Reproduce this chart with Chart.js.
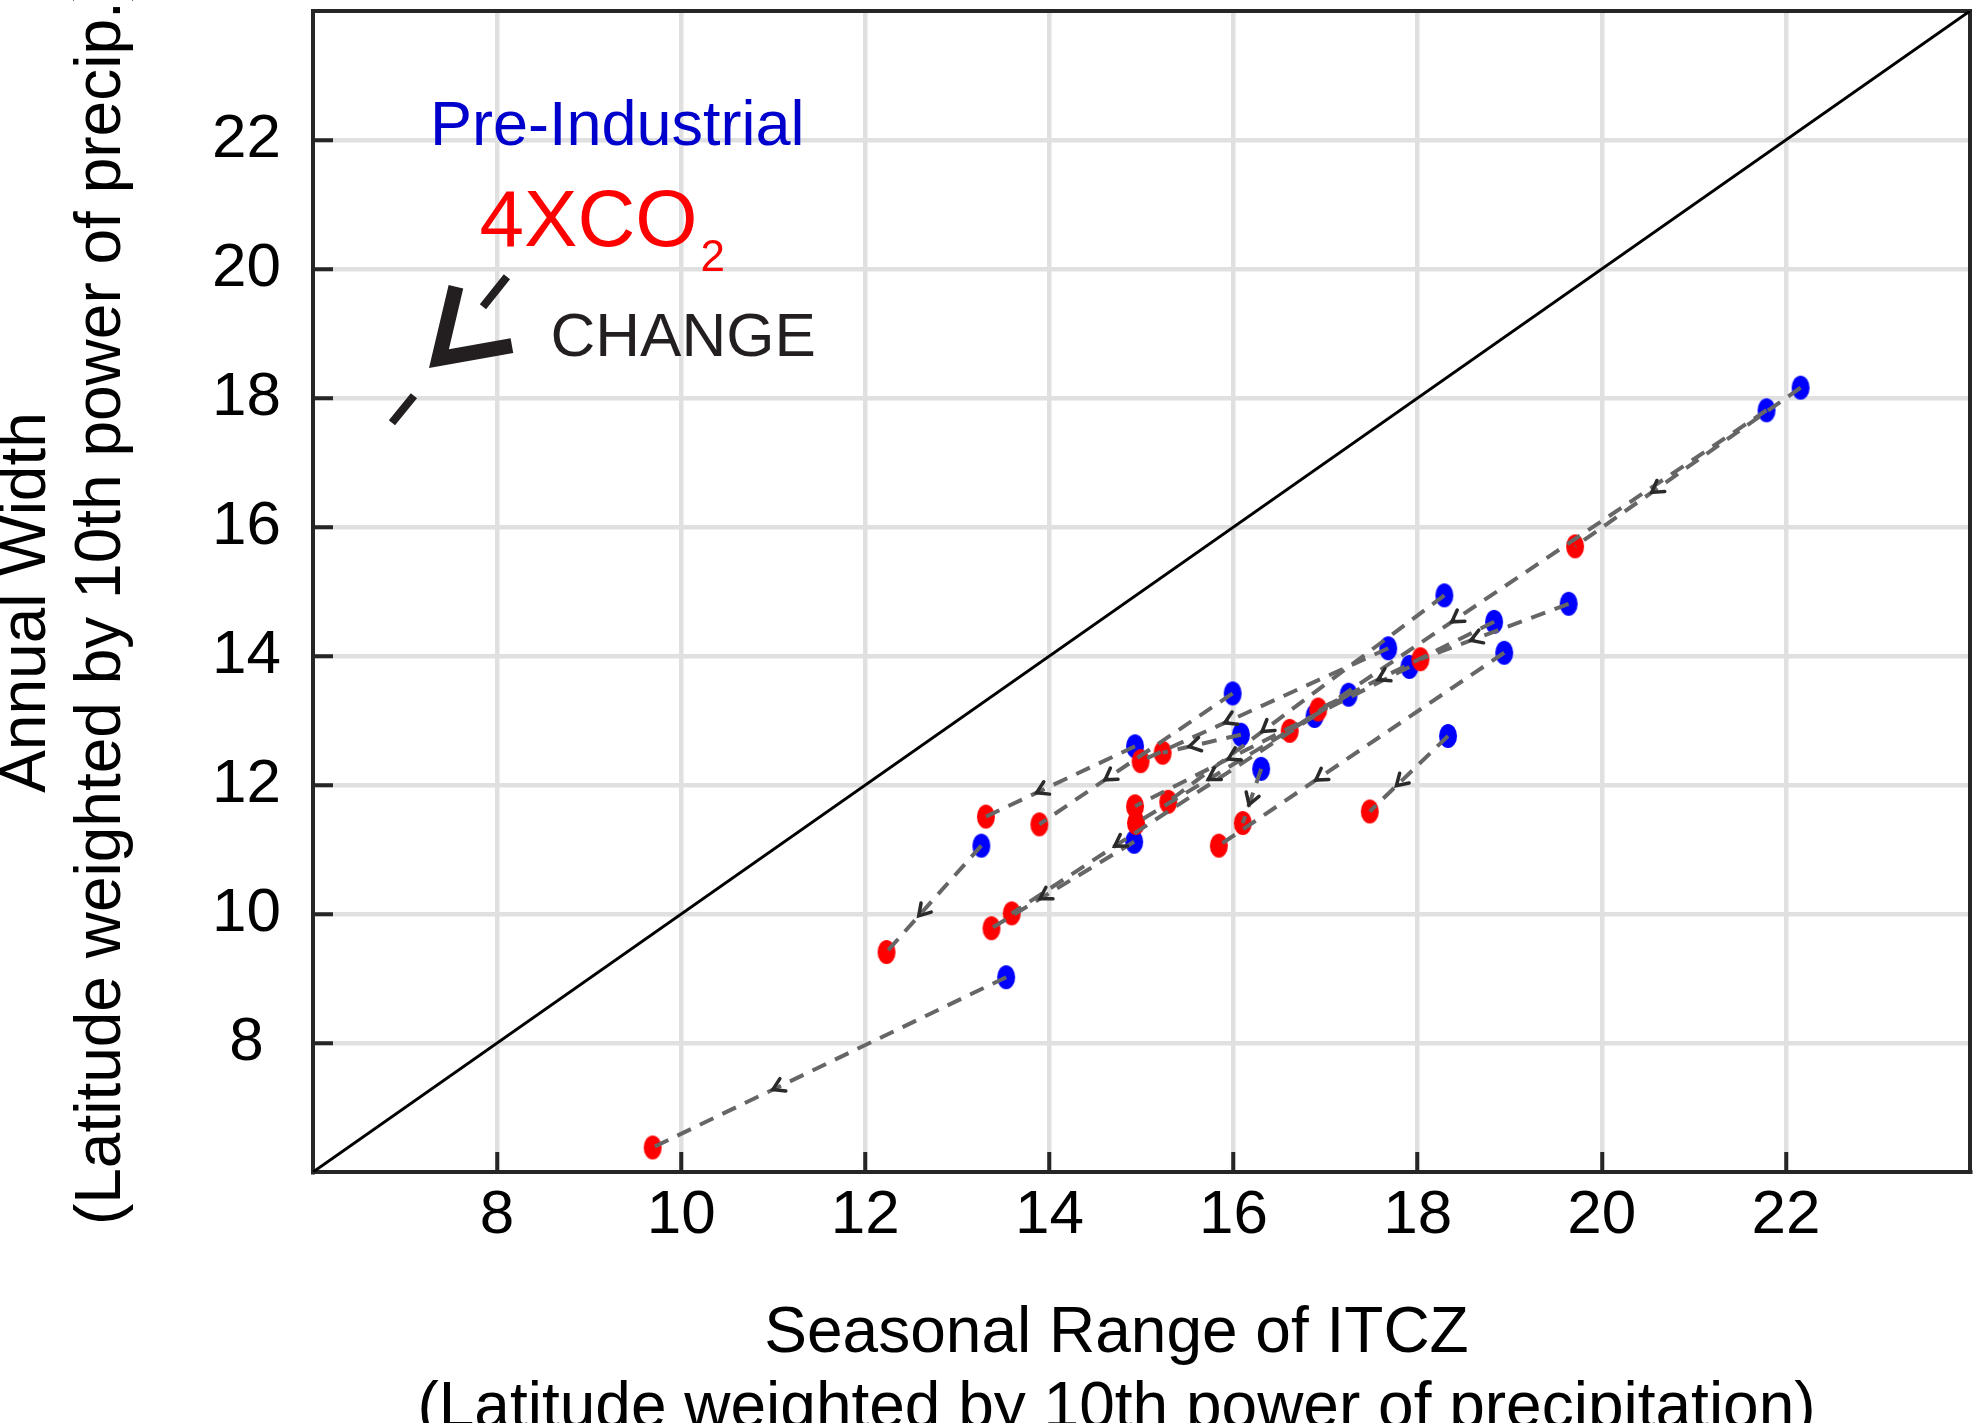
<!DOCTYPE html>
<html lang="en">
<head>
  <meta charset="UTF-8" />
  <title>Seasonal Range of ITCZ vs Annual Width</title>
  <script src="https://cdn.jsdelivr.net/npm/chart.js"></script>
  <style>
    html, body {
      margin: 0;
      padding: 0;
      background: #ffffff;
    }
    #wrap {
      width: 1981px;
      height: 1423px;
      position: relative;
    }
  </style>
</head>
<body>
  <div id="wrap"><canvas id="itczChart"></canvas></div>

  <script>
    // Pre-industrial runs (blue) and the matching 4XCO2 runs (red), same model order
    const piX  = [22.16, 21.79, 18.29, 19.64, 18.83, 17.68, 18.94, 17.91, 15.99, 17.25, 16.88, 16.08, 18.33, 14.93, 16.30, 13.26, 14.92, 13.53];
    const piY  = [18.16, 17.81, 14.94, 14.81, 14.53, 14.12, 14.05, 13.83, 13.42, 13.40, 13.07, 12.78, 12.76, 12.60, 12.25, 11.06, 11.12, 9.02];
    const co2X = [19.71, 16.61, 15.29, 18.03, 16.92, 14.99, 15.84, 14.93, 13.89, 14.94, 13.59, 15.23, 17.48, 13.31, 16.10, 12.23, 13.37, 9.69];
    const co2Y = [15.70, 12.84, 11.74, 13.95, 13.17, 12.37, 11.06, 11.67, 11.39, 11.41, 10.01, 12.50, 11.59, 11.51, 11.41, 9.41, 9.78, 6.38];

    const xTicks = [8, 10, 12, 14, 16, 18, 20, 22];
    const yTicks = [8, 10, 12, 14, 16, 18, 20, 22];
    const axisMin = 6;
    const axisMax = 24;

    const xTitle = ['Seasonal Range of ITCZ', '(Latitude weighted by 10th power of precipitation)'];
    const yTitle = ['Annual Width', '(Latitude weighted by 10th power of precip.)'];

    const FONT = '"Liberation Sans", Arial, Helvetica, sans-serif';
    const AXIS = '#262626';

    function font(size) {
      return size + 'px ' + FONT;
    }

    // filled ellipse used as point marker (markers are a bit taller than wide)
    function ellipseMarker(color) {
      const c = document.createElement('canvas');
      c.width = 20;
      c.height = 26;
      const g = c.getContext('2d');
      g.fillStyle = color;
      g.beginPath();
      g.ellipse(10, 13, 9, 12, 0, 0, Math.PI * 2);
      g.fill();
      return c;
    }

    const changeSets = piX.map((_, i) => ({
      label: 'change ' + (i + 1),
      data: [{ x: piX[i], y: piY[i] }, { x: co2X[i], y: co2Y[i] }],
      showLine: true,
      borderColor: '#666666',
      borderWidth: 4,
      borderDash: [15, 10],
      pointRadius: 0,
      fill: false
    }));

    // small arrow heads along each change line, pointing at the 4XCO2 value
    const changeArrows = {
      id: 'changeArrows',
      afterDatasetsDraw(chart) {
        const { ctx, scales: { x, y } } = chart;
        ctx.save();
        ctx.strokeStyle = '#2a2a2a';
        ctx.lineWidth = 3.5;
        ctx.lineCap = 'round';
        for (let i = 0; i < piX.length; i++) {
          const bx = x.getPixelForValue(piX[i]), by = y.getPixelForValue(piY[i]);
          const rx = x.getPixelForValue(co2X[i]), ry = y.getPixelForValue(co2Y[i]);
          const tx = bx + (rx - bx) * 0.66, ty = by + (ry - by) * 0.66;
          const ang = Math.atan2(ry - by, rx - bx);
          const len = 13;
          ctx.beginPath();
          ctx.moveTo(tx - len * Math.cos(ang - 0.55), ty - len * Math.sin(ang - 0.55));
          ctx.lineTo(tx, ty);
          ctx.lineTo(tx - len * Math.cos(ang + 0.55), ty - len * Math.sin(ang + 0.55));
          ctx.stroke();
        }
        ctx.restore();
      }
    };

    // top and right sides of the box
    const frame = {
      id: 'frame',
      beforeDatasetsDraw(chart) {
        const { ctx, chartArea: a } = chart;
        ctx.save();
        ctx.strokeStyle = AXIS;
        ctx.lineWidth = 4;
        ctx.beginPath();
        ctx.moveTo(a.left, a.top);
        ctx.lineTo(a.right, a.top);
        ctx.lineTo(a.right, a.bottom);
        ctx.stroke();
        ctx.restore();
      }
    };

    const axisTitles = {
      id: 'axisTitles',
      afterDraw(chart) {
        const { ctx, chartArea: a } = chart;
        ctx.save();
        ctx.fillStyle = '#000000';
        ctx.font = font(64);
        ctx.textAlign = 'center';
        ctx.textBaseline = 'alphabetic';
        const cx = (a.left + a.right) / 2 - 25;
        xTitle.forEach((t, i) => ctx.fillText(t, cx, a.bottom + 180 + i * 75));
        const cy = (a.top + a.bottom) / 2 + 11;
        yTitle.forEach((t, i) => {
          ctx.save();
          ctx.translate(45 + i * 75, cy);
          ctx.rotate(-Math.PI / 2);
          ctx.fillText(t, 0, 0);
          ctx.restore();
        });
        ctx.restore();
      }
    };

    // in-plot key: labels and the CHANGE arrow
    const keyNotes = {
      id: 'keyNotes',
      afterDraw(chart) {
        const { ctx, scales: { x, y } } = chart;
        ctx.save();
        ctx.textAlign = 'left';
        ctx.textBaseline = 'alphabetic';

        ctx.fillStyle = '#0000cd';
        ctx.font = font(63);
        ctx.fillText('Pre-Industrial', x.getPixelForValue(7.27), y.getPixelForValue(21.93));

        ctx.fillStyle = '#ff0000';
        ctx.font = font(80);
        const cx = x.getPixelForValue(7.81), cy = y.getPixelForValue(20.36);
        ctx.fillText('4XCO', cx, cy);
        const w = ctx.measureText('4XCO').width;
        ctx.font = font(44);
        ctx.fillText('2', cx + w + 3, cy + 25);

        ctx.fillStyle = '#231f20';
        ctx.font = font(62);
        ctx.fillText('CHANGE', x.getPixelForValue(8.58), y.getPixelForValue(18.65));

        const px = x.getPixelForValue(7.368), py = y.getPixelForValue(18.61);
        ctx.strokeStyle = '#231f20';
        ctx.lineWidth = 8;
        ctx.beginPath();
        ctx.moveTo(px + 68, py - 82);
        ctx.lineTo(px + 44, py - 52);
        ctx.moveTo(px - 25, py + 37);
        ctx.lineTo(px - 47, py + 64);
        ctx.stroke();
        ctx.lineWidth = 15;
        ctx.lineJoin = 'miter';
        ctx.beginPath();
        ctx.moveTo(px + 17, py - 72);
        ctx.lineTo(px, py);
        ctx.lineTo(px + 73, py - 13);
        ctx.stroke();
        ctx.restore();
      }
    };

    new Chart(document.getElementById('itczChart'), {
      type: 'scatter',
      data: {
        datasets: [
          ...changeSets,
          {
            label: '4XCO2',
            data: co2X.map((v, i) => ({ x: v, y: co2Y[i] })),
            pointStyle: ellipseMarker('#ff0000'),
            pointRadius: 10
          },
          {
            label: 'Pre-Industrial',
            data: piX.map((v, i) => ({ x: v, y: piY[i] })),
            pointStyle: ellipseMarker('#0000ff'),
            pointRadius: 10
          },
          {
            label: '1:1',
            data: [{ x: axisMin, y: axisMin }, { x: axisMax, y: axisMax }],
            showLine: true,
            borderColor: '#000000',
            borderWidth: 3,
            pointRadius: 0
          }
        ]
      },
      options: {
        responsive: true,
        maintainAspectRatio: false,
        animation: false,
        layout: { padding: { top: 6, right: 10, left: 0, bottom: 0 } },
        plugins: {
          legend: { display: false },
          tooltip: { enabled: false }
        },
        scales: {
          x: {
            type: 'linear',
            min: axisMin,
            max: axisMax,
            afterBuildTicks: s => { s.ticks = xTicks.map(v => ({ value: v })); },
            afterFit: s => {
              s.height = 251;
              s.paddingLeft = 0;
              s.paddingRight = 0;
            },
            ticks: {
              color: '#000000',
              font: { family: FONT, size: 62 },
              padding: 27,
              maxRotation: 0,
              autoSkip: false
            },
            grid: {
              color: '#e0e0e0',
              lineWidth: 4.5,
              tickLength: -20,
              tickColor: AXIS,
              tickWidth: 4
            },
            border: { display: true, color: AXIS, width: 4 }
          },
          y: {
            type: 'linear',
            min: axisMin,
            max: axisMax,
            afterBuildTicks: s => { s.ticks = yTicks.map(v => ({ value: v })); },
            afterFit: s => {
              s.width = 313;
              s.paddingTop = 0;
              s.paddingBottom = 0;
            },
            ticks: {
              color: '#000000',
              font: { family: FONT, size: 62 },
              crossAlign: 'center',
              padding: 52,
              autoSkip: false
            },
            grid: {
              color: '#e0e0e0',
              lineWidth: 4.5,
              tickLength: -20,
              tickColor: AXIS,
              tickWidth: 4
            },
            border: { display: true, color: AXIS, width: 4 }
          }
        }
      },
      plugins: [frame, changeArrows, axisTitles, keyNotes]
    });
  </script>
</body>
</html>
